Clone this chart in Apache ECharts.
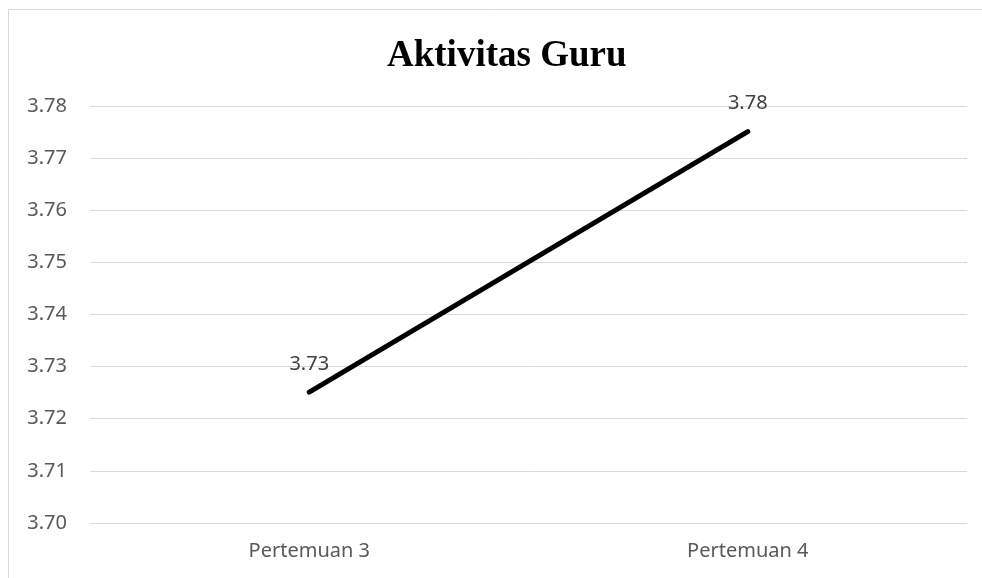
<!DOCTYPE html>
<html>
<head>
<meta charset="utf-8">
<script src="https://cdn.jsdelivr.net/npm/echarts@6/dist/echarts.min.js"></script>
<style>
    html, body { margin: 0; padding: 0; background: #fff; overflow: hidden; }
    #chart { width: 982px; height: 578px; }
</style>
</head>
<body>
<div id="chart"></div>
<script>
    // data
    const categories = ["Pertemuan 3", "Pertemuan 4"];
    const values = [3.7251, 3.7751];
    const yMin = 3.70;
    const yMax = 3.78;
    const yStep = 0.01;

    const chart = echarts.init(document.getElementById("chart"));
    const option = {
        backgroundColor: "#fff",
        animation: false,
        title: {
            text: "Aktivitas Guru",
            left: 382,
            top: 33,
            textStyle: {
                fontFamily: "Liberation Serif",
                fontWeight: "bold",
                fontSize: 37,
                color: "#000",
            },
        },
        graphic: [
            {
                // frame: only top and left edges are visible in the picture
                type: "polyline",
                silent: true,
                shape: { points: [[8.5, 578], [8.5, 9.5], [982, 9.5]] },
                style: { fill: null, stroke: "#d9d9d9", lineWidth: 1 },
            },
        ],
        grid: {
            left: 90,
            right: 15,
            top: 106,
            bottom: 55,
            containLabel: false,
        },
        xAxis: {
            type: "category",
            data: categories,
            boundaryGap: true,
            axisTick: { show: false },
            axisLine: { lineStyle: { color: "#d9d9d9", width: 1 } },
            axisLabel: {
                color: "#595959",
                fontFamily: "Noto Sans",
                fontSize: 20,
                margin: 18,
            },
        },
        yAxis: {
            type: "value",
            min: yMin,
            max: yMax,
            interval: yStep,
            axisLine: { show: false },
            axisTick: { show: false },
            splitLine: { lineStyle: { color: "#d9d9d9", width: 1 } },
            axisLabel: {
                color: "#595959",
                fontFamily: "Noto Sans",
                fontSize: 20,
                margin: 23,
                formatter: v => v.toFixed(2),
            },
        },
        series: [
            {
                type: "line",
                data: values,
                symbol: "circle",
                symbolSize: 2,
                showSymbol: true,
                itemStyle: { color: "#000" },
                lineStyle: { color: "#000", width: 5, cap: "round" },
                label: {
                    show: true,
                    position: "top",
                    distance: 5,
                    offset: [0, -12],
                    color: "#404040",
                    fontFamily: "Noto Sans",
                    fontSize: 20,
                    formatter: p => p.value.toFixed(2),
                },
            },
        ],
    };
    chart.setOption(option);
</script>
</body>
</html>
